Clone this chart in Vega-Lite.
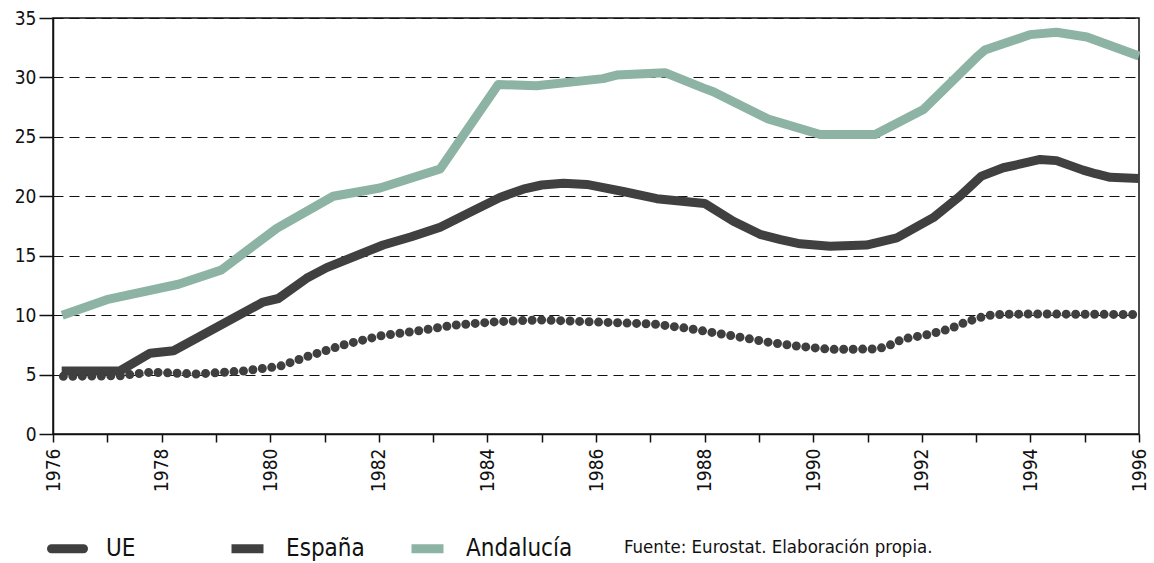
{
  "$schema": "https://vega.github.io/schema/vega-lite/v6.json",
  "width": 1086,
  "height": 416,
  "autosize": "none",
  "padding": {"left": 53, "top": 18, "right": 15, "bottom": 129},
  "background": "white",
  "config": {
    "font": "Liberation Sans Narrow, DejaVu Sans Condensed, sans-serif",
    "view": {"stroke": "#111111", "strokeWidth": 1.5},
    "axis": {
      "labelFont": "Liberation Sans Narrow, DejaVu Sans Condensed, sans-serif",
      "labelColor": "#111111",
      "domainColor": "#111111",
      "tickColor": "#111111",
      "domainWidth": 1.5,
      "tickWidth": 1.5,
      "title": null
    }
  },
  "data": {
    "values": [
      {"serie": "Andalucía", "anio": 1976.17, "valor": 10.0},
      {"serie": "Andalucía", "anio": 1976.99, "valor": 11.3},
      {"serie": "Andalucía", "anio": 1978.31, "valor": 12.6},
      {"serie": "Andalucía", "anio": 1979.1, "valor": 13.8},
      {"serie": "Andalucía", "anio": 1980.12, "valor": 17.3},
      {"serie": "Andalucía", "anio": 1981.16, "valor": 20.0},
      {"serie": "Andalucía", "anio": 1982.02, "valor": 20.7},
      {"serie": "Andalucía", "anio": 1983.13, "valor": 22.3},
      {"serie": "Andalucía", "anio": 1984.2, "valor": 29.4},
      {"serie": "Andalucía", "anio": 1984.9, "valor": 29.3},
      {"serie": "Andalucía", "anio": 1986.13, "valor": 29.9},
      {"serie": "Andalucía", "anio": 1986.38, "valor": 30.2},
      {"serie": "Andalucía", "anio": 1987.27, "valor": 30.4},
      {"serie": "Andalucía", "anio": 1987.98, "valor": 29.1},
      {"serie": "Andalucía", "anio": 1988.16, "valor": 28.8},
      {"serie": "Andalucía", "anio": 1989.17, "valor": 26.5},
      {"serie": "Andalucía", "anio": 1990.13, "valor": 25.2},
      {"serie": "Andalucía", "anio": 1991.14, "valor": 25.2},
      {"serie": "Andalucía", "anio": 1992.03, "valor": 27.3},
      {"serie": "Andalucía", "anio": 1993.01, "valor": 31.7},
      {"serie": "Andalucía", "anio": 1993.16, "valor": 32.3},
      {"serie": "Andalucía", "anio": 1993.99, "valor": 33.6},
      {"serie": "Andalucía", "anio": 1994.48, "valor": 33.8},
      {"serie": "Andalucía", "anio": 1995.04, "valor": 33.4},
      {"serie": "Andalucía", "anio": 1996.0, "valor": 31.8},
      {"serie": "España", "anio": 1976.16, "valor": 5.3},
      {"serie": "España", "anio": 1977.23, "valor": 5.3},
      {"serie": "España", "anio": 1977.79, "valor": 6.8},
      {"serie": "España", "anio": 1978.22, "valor": 7.0},
      {"serie": "España", "anio": 1979.87, "valor": 11.1},
      {"serie": "España", "anio": 1980.15, "valor": 11.4},
      {"serie": "España", "anio": 1980.67, "valor": 13.1},
      {"serie": "España", "anio": 1981.04, "valor": 14.0},
      {"serie": "España", "anio": 1982.08, "valor": 15.9},
      {"serie": "España", "anio": 1982.6, "valor": 16.6},
      {"serie": "España", "anio": 1983.13, "valor": 17.4},
      {"serie": "España", "anio": 1983.7, "valor": 18.7},
      {"serie": "España", "anio": 1984.23, "valor": 19.9},
      {"serie": "España", "anio": 1984.66, "valor": 20.6},
      {"serie": "España", "anio": 1985.0, "valor": 20.95},
      {"serie": "España", "anio": 1985.4, "valor": 21.1},
      {"serie": "España", "anio": 1985.83, "valor": 21.0},
      {"serie": "España", "anio": 1986.5, "valor": 20.4},
      {"serie": "España", "anio": 1987.12, "valor": 19.8},
      {"serie": "España", "anio": 1988.0, "valor": 19.4},
      {"serie": "España", "anio": 1988.53, "valor": 17.9},
      {"serie": "España", "anio": 1989.02, "valor": 16.8},
      {"serie": "España", "anio": 1989.4, "valor": 16.35},
      {"serie": "España", "anio": 1989.76, "valor": 16.0},
      {"serie": "España", "anio": 1990.31, "valor": 15.8},
      {"serie": "España", "anio": 1990.98, "valor": 15.9},
      {"serie": "España", "anio": 1991.54, "valor": 16.5},
      {"serie": "España", "anio": 1992.21, "valor": 18.2},
      {"serie": "España", "anio": 1992.7, "valor": 20.0},
      {"serie": "España", "anio": 1993.1, "valor": 21.7},
      {"serie": "España", "anio": 1993.5, "valor": 22.4},
      {"serie": "España", "anio": 1993.8, "valor": 22.7},
      {"serie": "España", "anio": 1994.18, "valor": 23.1},
      {"serie": "España", "anio": 1994.48, "valor": 23.0},
      {"serie": "España", "anio": 1994.97, "valor": 22.2},
      {"serie": "España", "anio": 1995.2, "valor": 21.9},
      {"serie": "España", "anio": 1995.47, "valor": 21.6},
      {"serie": "España", "anio": 1996.0, "valor": 21.5},
      {"serie": "UE", "anio": 1976.19, "valor": 4.85},
      {"serie": "UE", "anio": 1977.23, "valor": 4.9},
      {"serie": "UE", "anio": 1977.79, "valor": 5.2},
      {"serie": "UE", "anio": 1978.65, "valor": 5.05},
      {"serie": "UE", "anio": 1979.5, "valor": 5.3},
      {"serie": "UE", "anio": 1980.18, "valor": 5.7},
      {"serie": "UE", "anio": 1980.67, "valor": 6.5},
      {"serie": "UE", "anio": 1981.35, "valor": 7.5},
      {"serie": "UE", "anio": 1982.02, "valor": 8.25},
      {"serie": "UE", "anio": 1982.76, "valor": 8.7},
      {"serie": "UE", "anio": 1983.37, "valor": 9.15},
      {"serie": "UE", "anio": 1984.17, "valor": 9.45},
      {"serie": "UE", "anio": 1984.97, "valor": 9.6},
      {"serie": "UE", "anio": 1985.83, "valor": 9.45},
      {"serie": "UE", "anio": 1987.07, "valor": 9.25},
      {"serie": "UE", "anio": 1987.67, "valor": 8.9},
      {"serie": "UE", "anio": 1988.59, "valor": 8.2},
      {"serie": "UE", "anio": 1989.2, "valor": 7.7},
      {"serie": "UE", "anio": 1989.7, "valor": 7.4},
      {"serie": "UE", "anio": 1990.31, "valor": 7.12},
      {"serie": "UE", "anio": 1991.17, "valor": 7.15},
      {"serie": "UE", "anio": 1991.35, "valor": 7.35},
      {"serie": "UE", "anio": 1991.66, "valor": 8.0},
      {"serie": "UE", "anio": 1992.15, "valor": 8.4},
      {"serie": "UE", "anio": 1992.52, "valor": 8.85},
      {"serie": "UE", "anio": 1992.83, "valor": 9.45},
      {"serie": "UE", "anio": 1993.13, "valor": 9.87},
      {"serie": "UE", "anio": 1993.32, "valor": 10.05},
      {"serie": "UE", "anio": 1994.0, "valor": 10.1},
      {"serie": "UE", "anio": 1996.0, "valor": 10.05}
    ]
  },
  "encoding": {
    "x": {
      "field": "anio",
      "type": "quantitative",
      "scale": {"domain": [1976, 1996], "nice": false, "zero": false},
      "axis": {
        "values": [1976, 1977, 1978, 1979, 1980, 1981, 1982, 1983, 1984, 1985, 1986, 1987, 1988, 1989, 1990, 1991, 1992, 1993, 1994, 1995, 1996],
        "format": "d",
        "labelExpr": "datum.value % 2 === 0 ? datum.label : ''",
        "labelAngle": 270,
        "labelAlign": "right",
        "labelBaseline": "middle",
        "labelFontSize": 19,
        "labelPadding": 6,
        "tickSize": 8,
        "grid": false,
        "labelOverlap": false,
        "labelFlush": false
      }
    },
    "y": {
      "field": "valor",
      "type": "quantitative",
      "scale": {"domain": [0, 35], "nice": false},
      "axis": {
        "values": [0, 5, 10, 15, 20, 25, 30, 35],
        "labelFontSize": 19,
        "labelPadding": 3,
        "tickSize": 14,
        "grid": true,
        "gridColor": "#111111",
        "gridDash": [10, 6],
        "gridWidth": 1
      }
    },
    "color": {
      "field": "serie",
      "type": "nominal",
      "scale": {"domain": ["UE", "España", "Andalucía"], "range": ["#3f3f3f", "#404040", "#8cb3a3"]},
      "legend": {
        "orient": "none",
        "legendX": -6,
        "legendY": 510,
        "direction": "horizontal",
        "columns": 3,
        "gridAlign": "all",
        "columnPadding": 0,
        "symbolType": "stroke",
        "symbolStrokeWidth": 9,
        "symbolSize": 1024,
        "labelFontSize": 24,
        "labelOffset": 18,
        "labelColor": "#111111",
        "title": "Fuente: Eurostat. Elaboración propia.",
        "titleOrient": "right",
        "titleFontSize": 18.5,
        "titleFontWeight": "normal",
        "titleColor": "#111111",
        "titleLimit": 500,
        "titlePadding": 52,
        "titleBaseline": "middle",
        "encode": {
          "symbols": {
            "update": {
              "strokeCap": [{"test": "datum.value === 'UE'", "value": "round"}, {"value": "butt"}]
            }
          }
        }
      }
    }
  },
  "layer": [
    {
      "transform": [{"filter": "datum.serie !== 'UE'"}],
      "mark": {"type": "line", "strokeWidth": 9, "strokeCap": "butt", "strokeJoin": "round"},
      "encoding": {"detail": {"field": "serie"}}
    },
    {
      "transform": [{"filter": "datum.serie === 'UE'"}],
      "mark": {"type": "line", "strokeWidth": 9, "strokeCap": "round", "strokeDash": [0, 9.5]}
    }
  ]
}
